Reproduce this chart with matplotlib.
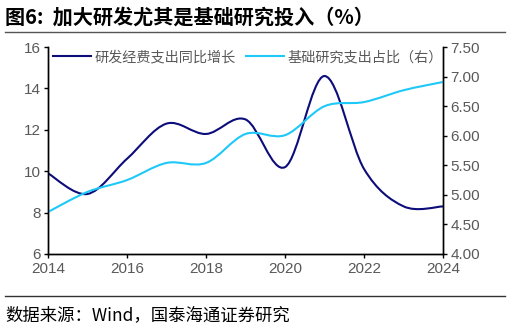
import numpy as np
import matplotlib
matplotlib.use("Agg")
import matplotlib.pyplot as plt
from matplotlib.path import Path
from matplotlib.patches import PathPatch
from matplotlib.lines import Line2D

plt.rcParams['font.family'] = ['Noto Sans CJK SC', 'DejaVu Sans']

years = [2014, 2015, 2016, 2017, 2018, 2019, 2020, 2021, 2022, 2023, 2024]
rd_growth = [9.9, 8.9, 10.6, 12.3, 11.8, 12.5, 10.2, 14.6, 10.1, 8.3, 8.3]
basic_share = [4.71, 5.05, 5.25, 5.54, 5.54, 6.03, 6.01, 6.50, 6.57, 6.77, 6.91]

label_rd = "研发经费支出同比增长"
label_basic = "基础研究支出占比（右）"
title = "图6:  加大研发尤其是基础研究投入（%）"
source = "数据来源：Wind，国泰海通证券研究"

dark = "#0c0c7a"
light = "#1ec8f8"
grey = "#595959"


def smooth_path(x, y):
    # Excel-like smoothed line: Catmull-Rom segments as cubic Beziers
    x = np.asarray(x, float)
    y = np.asarray(y, float)
    verts = [(x[0], y[0])]
    codes = [Path.MOVETO]
    n = len(x)
    for i in range(n - 1):
        p0 = (x[max(i - 1, 0)], y[max(i - 1, 0)])
        p1 = (x[i], y[i])
        p2 = (x[i + 1], y[i + 1])
        p3 = (x[min(i + 2, n - 1)], y[min(i + 2, n - 1)])
        c1 = (p1[0] + (p2[0] - p0[0]) / 6, p1[1] + (p2[1] - p0[1]) / 6)
        c2 = (p2[0] - (p3[0] - p1[0]) / 6, p2[1] - (p3[1] - p1[1]) / 6)
        verts += [c1, c2, p2]
        codes += [Path.CURVE4] * 3
    return Path(verts, codes)


fig = plt.figure(figsize=(5.1, 3.29), dpi=100)
ax = fig.add_axes([0.094, 0.228, 0.775, 0.629])
ax2 = ax.twinx()

ax.add_patch(PathPatch(smooth_path(years, rd_growth), fill=False,
                       edgecolor=dark, lw=1.5, capstyle='round'))
ax2.add_patch(PathPatch(smooth_path(years, basic_share), fill=False,
                        edgecolor=light, lw=1.5, capstyle='round'))

ax.set_xlim(2014, 2024)
ax.set_ylim(6, 16)
ax.set_yticks(range(6, 17, 2))
ax.set_xticks(range(2014, 2025, 2))
ax2.set_ylim(4.0, 7.5)
ax2.set_yticks(np.arange(4.0, 7.51, 0.5))
ax2.set_yticklabels([f"{v:.2f}" for v in np.arange(4.0, 7.51, 0.5)])

for a in (ax, ax2):
    a.spines['top'].set_visible(False)
    for s in ('left', 'right', 'bottom'):
        a.spines[s].set_color('black')
        a.spines[s].set_linewidth(1.0)
    a.tick_params(labelsize=11, labelcolor=grey, length=3, width=1,
                  color='black', pad=2)
    for lab in a.get_xticklabels() + a.get_yticklabels():
        lab.set_family('Liberation Sans')
ax.tick_params(axis='x', pad=3)

handles = [Line2D([], [], color=dark, lw=1.5), Line2D([], [], color=light, lw=1.5)]
leg = ax.legend(handles, [label_rd, label_basic], loc='upper left',
                bbox_to_anchor=(-0.005, 1.02), ncol=2, frameon=False,
                fontsize=10.2, handlelength=2.7, columnspacing=0.7,
                handletextpad=0.25, borderaxespad=0.1)
for t in leg.get_texts():
    t.set_color(grey)

fig.text(0.010, 0.948, title, fontsize=14.5, fontweight='bold', color='black',
         va='center', ha='left')
fig.add_artist(Line2D([0.01, 0.99], [0.903, 0.903], color='#555555', lw=1.0))
fig.add_artist(Line2D([0.01, 0.99], [0.1, 0.1], color='#333333', lw=1.0))
fig.text(0.010, 0.042, source, fontsize=12.5, color='black', va='center', ha='left')

fig.savefig("out.png", dpi=100)
